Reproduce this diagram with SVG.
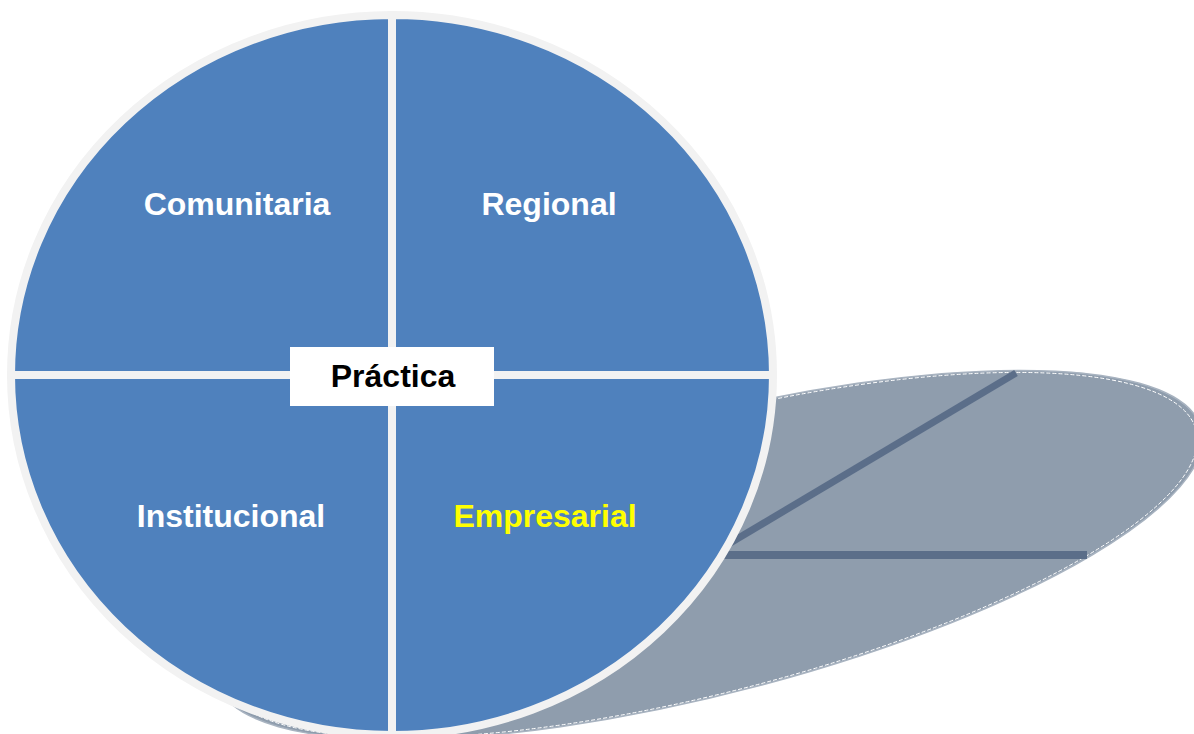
<svg xmlns="http://www.w3.org/2000/svg" width="1194" height="734" viewBox="0 0 1194 734">
  <style>
    .quad { fill: #4f81bd; stroke: #f2f2f2; stroke-width: 8; stroke-linejoin: miter; }
    .lbl { font-family: "Liberation Sans", Arial, sans-serif; font-weight: bold; font-size: 32px; text-anchor: middle; fill: #ffffff; }
    .sline { stroke: #5b6e89; fill: none; }
  </style>
  <rect width="1194" height="734" fill="#ffffff"/>
  <g id="shadow">
    <g transform="matrix(1 0 -0.86 0.51 709 555)">
      <ellipse cx="0" cy="0" rx="383" ry="362" fill="#8f9dad" stroke="#a8b3c0" stroke-width="1.5" vector-effect="non-scaling-stroke"/>
      <ellipse cx="0" cy="0" rx="379" ry="358" fill="none" stroke="#ffffff" stroke-width="1" stroke-dasharray="4 2" vector-effect="non-scaling-stroke"/>
    </g>
  </g>
  <g id="connectors">
    <line class="sline" x1="340" y1="555" x2="1087" y2="555" stroke-width="8"/>
    <line class="sline" x1="404" y1="737" x2="1016" y2="373" stroke-width="7"/>
  </g>
  <g id="comunitaria">
    <path class="quad" d="M392,375 L11,375 A381,360 0 0 1 392,15 Z"/>
    <text class="lbl" x="237" y="215">Comunitaria</text>
  </g>
  <g id="regional">
    <path class="quad" d="M392,375 L392,15 A381,360 0 0 1 773,375 Z"/>
    <text class="lbl" x="549" y="215">Regional</text>
  </g>
  <g id="empresarial">
    <path class="quad" d="M392,375 L773,375 A381,360 0 0 1 392,735 Z"/>
    <text class="lbl" x="545" y="527" style="fill:#ffff00">Empresarial</text>
  </g>
  <g id="institucional">
    <path class="quad" d="M392,375 L392,735 A381,360 0 0 1 11,375 Z"/>
    <text class="lbl" x="231" y="527">Institucional</text>
  </g>
  <g id="practica">
    <rect x="290" y="347" width="204" height="59" fill="#ffffff"/>
    <text class="lbl" x="393" y="387" style="fill:#000000">Práctica</text>
  </g>
</svg>
